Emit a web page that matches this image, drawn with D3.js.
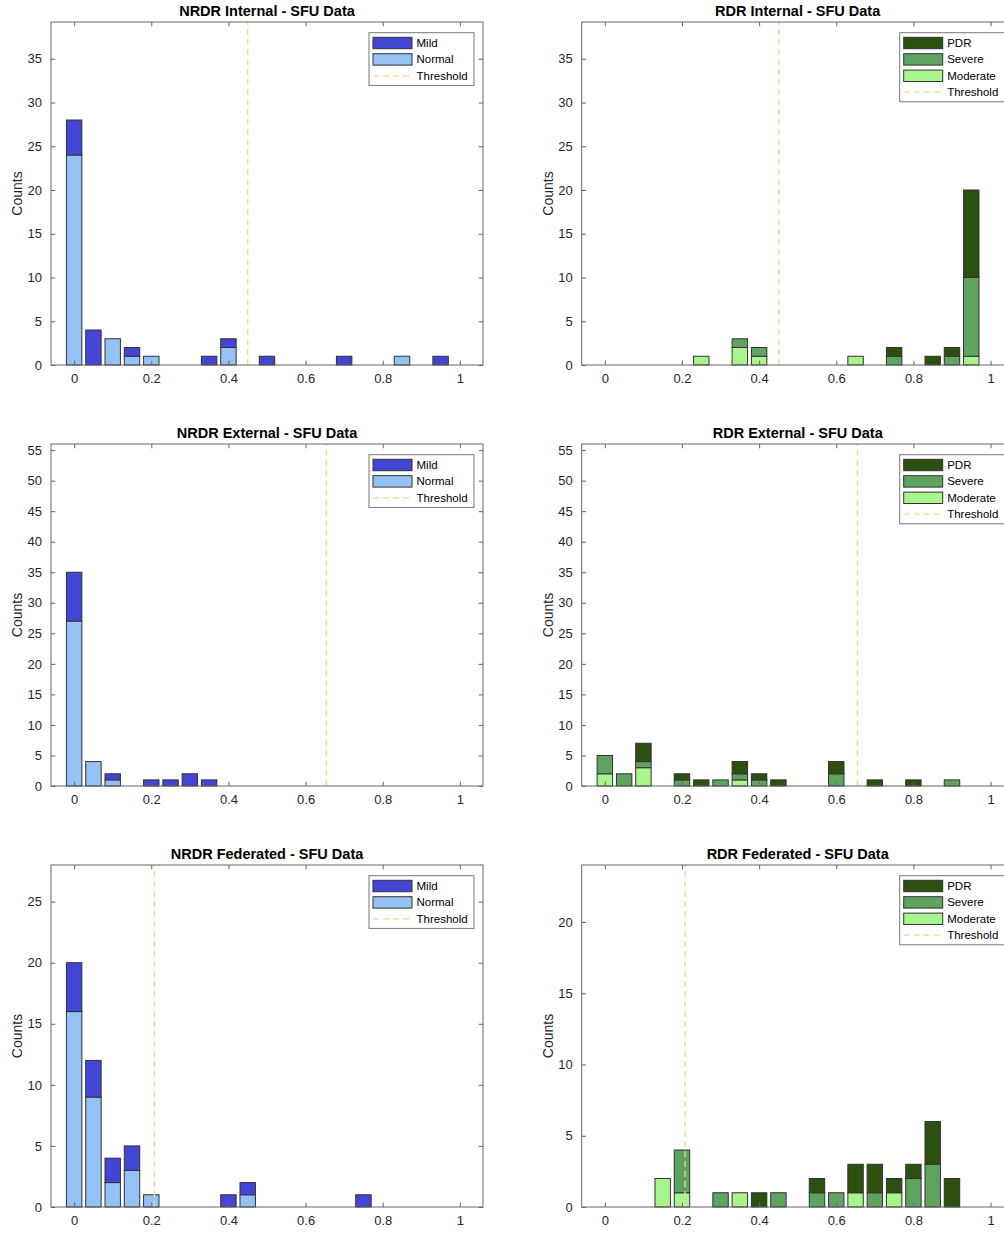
<!DOCTYPE html>
<html>
<head>
<meta charset="utf-8">
<script src="https://cdn.jsdelivr.net/npm/d3@7"></script>
<style>
  html, body { margin: 0; padding: 0; background: #fff; overflow: hidden; }
  svg { display: block; font-family: "Liberation Sans", Arial, Helvetica, sans-serif; }
</style>
</head>
<body>
<script>
// ---------- DATA ----------
const binCenters = [0, 0.05, 0.1, 0.15, 0.2, 0.25, 0.3, 0.35, 0.4, 0.45, 0.5, 0.55, 0.6, 0.65, 0.7, 0.75, 0.8, 0.85, 0.9, 0.95, 1];
const xTickValues = [0, 0.2, 0.4, 0.6, 0.8, 1];
const xTickLabels = ["0", "0.2", "0.4", "0.6", "0.8", "1"];

// NRDR Internal
const nrdrIntNormal = [24, 0, 3, 1, 1, 0, 0, 0, 2, 0, 0, 0, 0, 0, 0, 0, 0, 1, 0, 0, 0];
const nrdrIntMild   = [4, 4, 0, 1, 0, 0, 0, 1, 1, 0, 1, 0, 0, 0, 1, 0, 0, 0, 0, 1, 0];
// RDR Internal
const rdrIntModerate = [0, 0, 0, 0, 0, 1, 0, 2, 1, 0, 0, 0, 0, 1, 0, 0, 0, 0, 0, 1, 0];
const rdrIntSevere   = [0, 0, 0, 0, 0, 0, 0, 1, 1, 0, 0, 0, 0, 0, 0, 1, 0, 0, 1, 9, 0];
const rdrIntPDR      = [0, 0, 0, 0, 0, 0, 0, 0, 0, 0, 0, 0, 0, 0, 0, 1, 0, 1, 1, 10, 0];
// NRDR External
const nrdrExtNormal = [27, 4, 1, 0, 0, 0, 0, 0, 0, 0, 0, 0, 0, 0, 0, 0, 0, 0, 0, 0, 0];
const nrdrExtMild   = [8, 0, 1, 0, 1, 1, 2, 1, 0, 0, 0, 0, 0, 0, 0, 0, 0, 0, 0, 0, 0];
// RDR External
const rdrExtModerate = [2, 0, 3, 0, 0, 0, 0, 1, 0, 0, 0, 0, 0, 0, 0, 0, 0, 0, 0, 0, 0];
const rdrExtSevere   = [3, 2, 1, 0, 1, 0, 1, 1, 1, 0, 0, 0, 2, 0, 0, 0, 0, 0, 1, 0, 0];
const rdrExtPDR      = [0, 0, 3, 0, 1, 1, 0, 2, 1, 1, 0, 0, 2, 0, 1, 0, 1, 0, 0, 0, 0];
// NRDR Federated
const nrdrFedNormal = [16, 9, 2, 3, 1, 0, 0, 0, 0, 1, 0, 0, 0, 0, 0, 0, 0, 0, 0, 0, 0];
const nrdrFedMild   = [4, 3, 2, 2, 0, 0, 0, 0, 1, 1, 0, 0, 0, 0, 0, 1, 0, 0, 0, 0, 0];
// RDR Federated
const rdrFedModerate = [0, 0, 0, 2, 1, 0, 0, 1, 0, 0, 0, 0, 0, 1, 0, 1, 0, 0, 0, 0, 0];
const rdrFedSevere   = [0, 0, 0, 0, 3, 0, 1, 0, 0, 1, 0, 1, 1, 0, 1, 0, 2, 3, 0, 0, 0];
const rdrFedPDR      = [0, 0, 0, 0, 0, 0, 0, 0, 1, 0, 0, 1, 0, 2, 2, 1, 1, 3, 2, 0, 0];

const panelTitles = ["NRDR Internal - SFU Data", "RDR Internal - SFU Data",
                     "NRDR External - SFU Data", "RDR External - SFU Data",
                     "NRDR Federated - SFU Data", "RDR Federated - SFU Data"];
const thresholds = [0.45, 0.451, 0.654, 0.655, 0.208, 0.208];
const yMaxes = [39.2, 39.2, 56, 56, 28, 24];
const yTicks1 = [0, 5, 10, 15, 20, 25, 30, 35];
const yTicks2 = [0, 5, 10, 15, 20, 25, 30, 35, 40, 45, 50, 55];
const yTicks3L = [0, 5, 10, 15, 20, 25];
const yTicks3R = [0, 5, 10, 15, 20];

// ---------- STYLE / LAYOUT ----------
const COL = { Mild: "#4146d4", Normal: "#94c2f4", PDR: "#2b500f", Severe: "#5fa360", Moderate: "#a9f58d", Threshold: "#f8d690" };
const W = 1004, H = 1233;
const axW = 432;
const colX = [51, 581.7];
const rowY = [[22, 365], [444, 786], [865, 1207]];
const axisCol = "#666";
const textCol = "#262626";

const nrdrSeries = (normal, mild) => [
  { name: "Normal", vals: normal }, { name: "Mild", vals: mild }];
const rdrSeries = (mod, sev, pdr) => [
  { name: "Moderate", vals: mod }, { name: "Severe", vals: sev }, { name: "PDR", vals: pdr }];

const panels = [
  { series: nrdrSeries(nrdrIntNormal, nrdrIntMild), legend: ["Mild", "Normal"], yTicks: yTicks1, counts: false },
  { series: rdrSeries(rdrIntModerate, rdrIntSevere, rdrIntPDR), legend: ["PDR", "Severe", "Moderate"], yTicks: yTicks1, counts: true },
  { series: nrdrSeries(nrdrExtNormal, nrdrExtMild), legend: ["Mild", "Normal"], yTicks: yTicks2, counts: true },
  { series: rdrSeries(rdrExtModerate, rdrExtSevere, rdrExtPDR), legend: ["PDR", "Severe", "Moderate"], yTicks: yTicks2, counts: true },
  { series: nrdrSeries(nrdrFedNormal, nrdrFedMild), legend: ["Mild", "Normal"], yTicks: yTicks3L, counts: true },
  { series: rdrSeries(rdrFedModerate, rdrFedSevere, rdrFedPDR), legend: ["PDR", "Severe", "Moderate"], yTicks: yTicks3R, counts: true },
];

const svg = d3.select("body").append("svg").attr("width", W).attr("height", H);

panels.forEach((p, i) => {
  const col = i % 2, row = Math.floor(i / 2);
  const left = colX[col], top = rowY[row][0], bottom = rowY[row][1];
  const x = d3.scaleLinear().domain([-0.06, 1.06]).range([left, left + axW]);
  const y = d3.scaleLinear().domain([0, yMaxes[i]]).range([bottom, top]);
  const g = svg.append("g");

  // bars (stacked)
  const bw = (x(0.05) - x(0)) * 0.8;
  const stackData = binCenters.map((c, k) => {
    const o = { c };
    p.series.forEach(s => o[s.name] = s.vals[k]);
    return o;
  });
  const stack = d3.stack().keys(p.series.map(s => s.name));
  const layers = stack(stackData);
  layers.forEach(layer => {
    g.append("g").selectAll("rect")
      .data(layer.filter(d => d[1] - d[0] > 0))
      .join("rect")
      .attr("x", d => x(d.data.c) - bw / 2)
      .attr("width", bw)
      .attr("y", d => y(d[1]))
      .attr("height", d => y(d[0]) - y(d[1]))
      .attr("fill", COL[layer.key])
      .attr("stroke", "#333")
      .attr("stroke-width", 1);
  });

  // threshold
  g.append("line")
    .attr("x1", x(thresholds[i])).attr("x2", x(thresholds[i]))
    .attr("y1", y(0)).attr("y2", y(yMaxes[i]))
    .attr("stroke", COL.Threshold).attr("stroke-width", 1.3)
    .attr("stroke-dasharray", "6,4");

  // axes box
  g.append("rect").attr("x", left).attr("y", top).attr("width", axW).attr("height", bottom - top)
    .attr("fill", "none").attr("stroke", axisCol).attr("stroke-width", 1);

  const tl = 4.3;
  // bottom axis
  const xb = d3.axisBottom(x).tickValues(xTickValues).tickSizeInner(-tl).tickSizeOuter(0)
    .tickPadding(9).tickFormat((d, k) => xTickLabels[k]);
  const gxb = g.append("g").attr("transform", `translate(0,${bottom})`).call(xb);
  const xt = d3.axisTop(x).tickValues(xTickValues).tickSizeInner(-tl).tickSizeOuter(0).tickFormat("");
  const gxt = g.append("g").attr("transform", `translate(0,${top})`).call(xt);
  const yl = d3.axisLeft(y).tickValues(p.yTicks).tickSizeInner(-tl).tickSizeOuter(0).tickPadding(9).tickFormat(d3.format("d"));
  const gyl = g.append("g").attr("transform", `translate(${left},0)`).call(yl);
  const yr = d3.axisRight(y).tickValues(p.yTicks).tickSizeInner(-tl).tickSizeOuter(0).tickFormat("");
  const gyr = g.append("g").attr("transform", `translate(${left + axW},0)`).call(yr);
  [gxb, gxt, gyl, gyr].forEach(a => {
    a.select(".domain").remove();
    a.selectAll(".tick line").attr("stroke", axisCol);
    a.selectAll(".tick text").attr("fill", textCol).style("font-size", "13px")
      .style("font-family", "'Liberation Sans', Arial, sans-serif");
  });

  // title
  g.append("text").attr("x", left + axW / 2).attr("y", top - 6)
    .attr("text-anchor", "middle").attr("fill", "#000")
    .style("font-size", "14.5px").style("font-weight", "bold").text(panelTitles[i]);

  // y label
  g.append("text")
    .attr("transform", `translate(${left - 29},${(top + bottom) / 2}) rotate(-90)`)
    .attr("text-anchor", "middle").attr("fill", textCol)
    .style("font-size", "14px").text("Counts");

  // legend
  const items = p.legend.concat(["Threshold"]);
  const lw = 105, rowH = 16.4;
  const lx = left + axW - 9 - lw, ly = top + 10.7;
  const lh = items.length * rowH + 3.5;
  const lg = g.append("g");
  lg.append("rect").attr("x", lx).attr("y", ly).attr("width", lw).attr("height", lh)
    .attr("fill", "#fff").attr("stroke", "#777").attr("stroke-width", 1);
  items.forEach((name, k) => {
    const cy = ly + 10.3 + k * rowH;
    if (name === "Threshold") {
      lg.append("line").attr("x1", lx + 4).attr("x2", lx + 43).attr("y1", cy).attr("y2", cy)
        .attr("stroke", COL.Threshold).attr("stroke-width", 1.3).attr("stroke-dasharray", "6,4");
    } else {
      lg.append("rect").attr("x", lx + 4).attr("y", cy - 5.7).attr("width", 39).attr("height", 11.4)
        .attr("fill", COL[name]).attr("stroke", "#333").attr("stroke-width", 1);
    }
    lg.append("text").attr("x", lx + 47.5).attr("y", cy + 4).attr("fill", "#000")
      .style("font-size", "11.5px").text(name);
  });
});
</script>
</body>
</html>
